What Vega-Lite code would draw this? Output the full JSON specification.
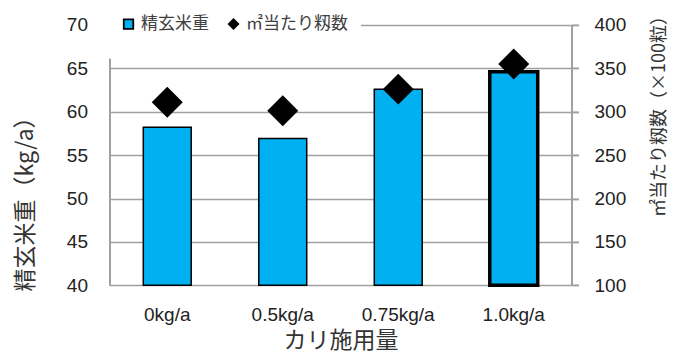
{
  "$schema": "https://vega.github.io/schema/vega-lite/v6.json",
  "autosize": {"type": "none"},
  "width": 462,
  "height": 260.4,
  "padding": {"left": 109.5, "top": 24.9, "right": 112.5, "bottom": 68.7},
  "background": "white",
  "data": {
    "values": [
      {"k": "0kg/a", "w": 58.2, "n": 311},
      {"k": "0.5kg/a", "w": 56.9, "n": 301},
      {"k": "0.75kg/a", "w": 62.6, "n": 326},
      {"k": "1.0kg/a", "w": 64.6, "n": 355}
    ]
  },
  "encoding": {
    "x": {
      "field": "k",
      "type": "nominal",
      "sort": null,
      "scale": {"paddingInner": 0.585, "paddingOuter": 0.2925},
      "axis": {
        "orient": "bottom",
        "domain": false,
        "ticks": false,
        "grid": false,
        "labelAngle": 0,
        "labelFont": "Liberation Sans",
        "labelFontSize": 19,
        "labelColor": "#222222",
        "labelPadding": 20,
        "title": "カリ施用量",
        "titleFont": "Noto Sans CJK JP",
        "titleFontSize": 23,
        "titleFontWeight": "normal",
        "titleColor": "#333333",
        "titleY": 55,
        "titleBaseline": "middle"
      }
    }
  },
  "layer": [
    {
      "mark": {"type": "bar", "fill": "#00B0F0", "stroke": "#000000", "strokeWidth": 1.5},
      "encoding": {
        "y": {
          "field": "w",
          "type": "quantitative",
          "scale": {"domain": [40, 70], "nice": false, "zero": false},
          "axis": {
            "orient": "left",
            "values": [40, 45, 50, 55, 60, 65, 70],
            "domain": true,
            "domainColor": "#A0A0A0",
            "domainWidth": 2,
            "ticks": false,
            "grid": true,
            "gridColor": "#A0A0A0",
            "gridWidth": 1.5,
            "labelFont": "Liberation Sans",
            "labelFontSize": 19,
            "labelColor": "#222222",
            "labelPadding": 22,
            "title": "精玄米重（kg/a）",
            "titleFont": "Noto Sans CJK JP",
            "titleFontSize": 23,
            "titleFontWeight": "normal",
            "titleColor": "#333333",
            "titleAngle": 270,
            "titleX": -84.5,
            "titleY": 173,
            "titleAlign": "center",
            "titleBaseline": "middle"
          }
        },
        "y2": {"datum": 40},
        "color": {
          "datum": "精玄米重",
          "type": "nominal",
          "scale": {"domain": ["精玄米重", "㎡当たり籾数"], "range": ["#00B0F0", "#000000"]},
          "legend": {
            "title": " ",
            "titleOrient": "bottom",
            "titleFontSize": 2,
            "titlePadding": 11,
            "orient": "none",
            "direction": "horizontal",
            "legendX": -2.5,
            "legendY": -22.4,
            "padding": 13,
            "fillColor": "white",
            "labelFont": "Noto Sans CJK JP",
            "labelFontSize": 17,
            "labelColor": "#404040",
            "labelOffset": 4,
            "columnPadding": 16,
            "symbolSize": 90,
            "symbolStrokeColor": "#000000",
            "symbolStrokeWidth": 1.8,
            "encode": {
              "symbols": {
                "update": {
                  "stroke": {"value": "#000000"},
                  "strokeWidth": {"value": 1.8}
                }
              }
            }
          }
        },
        "strokeWidth": {
          "condition": {"test": "datum.k === '1.0kg/a'", "value": 3.5},
          "value": 1.5
        }
      }
    },
    {
      "mark": {"type": "point", "filled": true, "size": 960, "opacity": 1},
      "encoding": {
        "y": {
          "field": "n",
          "type": "quantitative",
          "scale": {"domain": [100, 400], "nice": false, "zero": false},
          "axis": {
            "orient": "right",
            "values": [100, 150, 200, 250, 300, 350, 400],
            "domain": true,
            "domainColor": "#A0A0A0",
            "domainWidth": 2,
            "ticks": true,
            "tickSize": 7,
            "tickColor": "#A0A0A0",
            "tickWidth": 2,
            "grid": false,
            "labelFont": "Liberation Sans",
            "labelFontSize": 19,
            "labelColor": "#222222",
            "labelPadding": 15.5,
            "title": "㎡当たり籾数（×100粒）",
            "titleFont": "Noto Sans CJK JP",
            "titleFontSize": 18,
            "titleFontWeight": "normal",
            "titleColor": "#333333",
            "titleAngle": 270,
            "titleX": 87.5,
            "titleY": 86.6,
            "titleAlign": "center",
            "titleBaseline": "middle"
          }
        },
        "color": {"datum": "㎡当たり籾数", "type": "nominal"},
        "shape": {
          "datum": "㎡当たり籾数",
          "type": "nominal",
          "scale": {"domain": ["精玄米重", "㎡当たり籾数"], "range": ["square", "diamond"]},
          "legend": {
            "title": " ",
            "titleOrient": "bottom",
            "titleFontSize": 2,
            "titlePadding": 11,
            "orient": "none",
            "direction": "horizontal",
            "legendX": -2.5,
            "legendY": -22.4,
            "padding": 13,
            "fillColor": "white",
            "labelFont": "Noto Sans CJK JP",
            "labelFontSize": 17,
            "labelColor": "#404040",
            "labelOffset": 4,
            "columnPadding": 16,
            "symbolSize": 90,
            "symbolStrokeColor": "#000000",
            "symbolStrokeWidth": 1.8,
            "encode": {
              "symbols": {
                "update": {
                  "stroke": {"value": "#000000"},
                  "strokeWidth": {"value": 1.8}
                }
              }
            }
          }
        }
      }
    }
  ],
  "resolve": {"scale": {"y": "independent"}},
  "config": {
    "view": {"stroke": null},
    "axis": {"labelFlush": false, "labelOverlap": false}
  }
}
